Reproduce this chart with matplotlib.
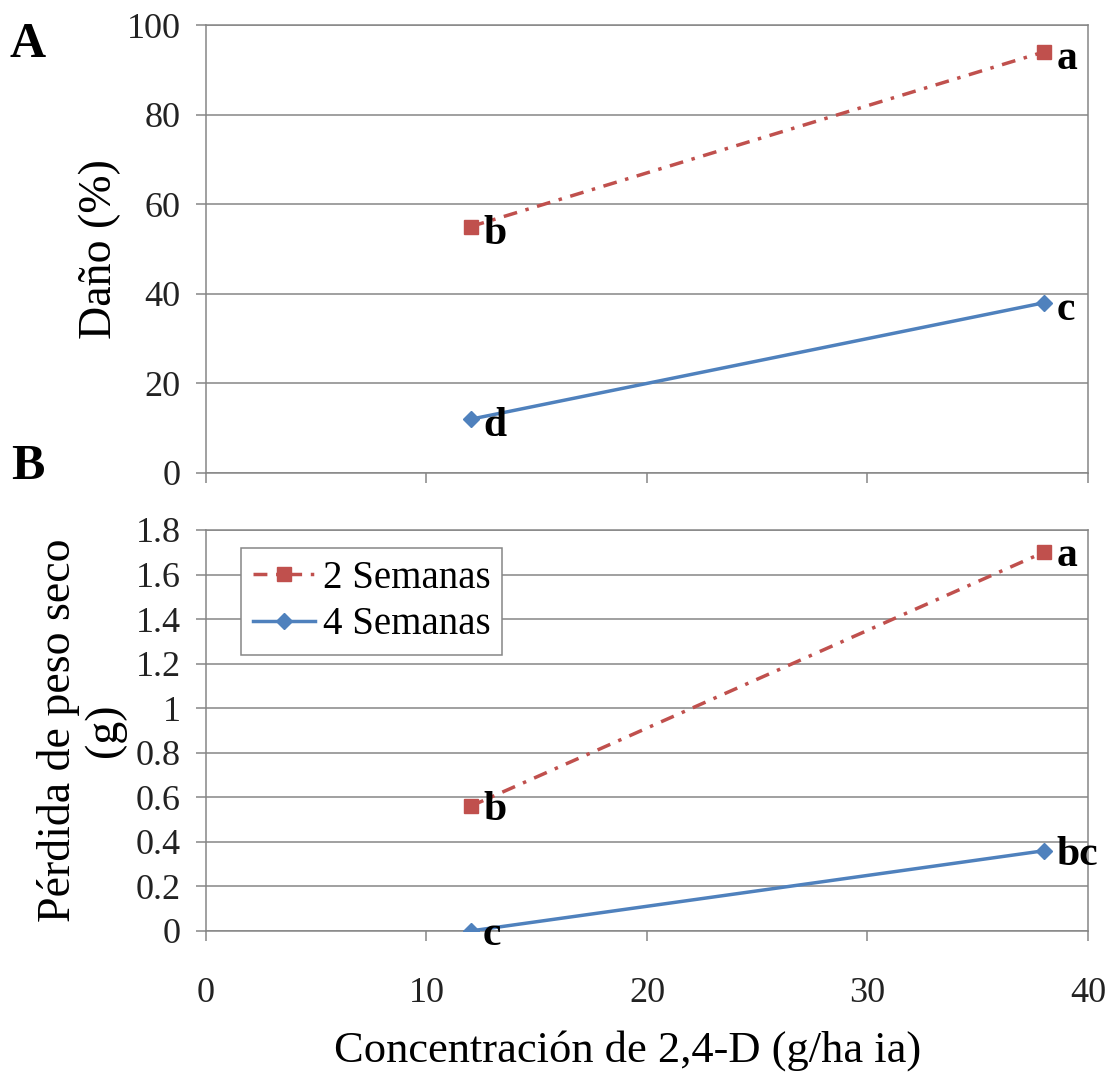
import matplotlib
matplotlib.use("Agg")
import matplotlib.pyplot as plt
import numpy as np

plt.rcParams['font.family'] = ['Liberation Serif', 'DejaVu Serif']

# dosis de 2,4-D (g/ha ia)
dosis = [12, 38]

# A: dano (%)
dano_2sem = [55, 94]
dano_4sem = [12, 38]
letras_dano_2sem = ['b', 'a']
letras_dano_4sem = ['d', 'c']

# B: perdida de peso seco (g)
peso_2sem = [0.56, 1.70]
peso_4sem = [0.0, 0.36]
letras_peso_2sem = ['b', 'a']
letras_peso_4sem = ['c', 'bc']

series = ['2 Semanas', '4 Semanas']
x_ticks = [0, 10, 20, 30, 40]

rojo = '#C0504D'
azul = '#4F81BD'
gris = '#868686'

fig = plt.figure(figsize=(11.11, 10.75), dpi=100)
ax1 = fig.add_axes([0.1854, 0.560, 0.7939, 0.4167])
ax2 = fig.add_axes([0.1854, 0.134, 0.7939, 0.373])


def estilo(ax, ymax, ystep, fmt):
    ax.set_xlim(0, 40)
    ax.set_ylim(0, ymax)
    ax.set_xticks(x_ticks)
    ax.set_yticks(np.arange(0, ymax + ystep / 2, ystep))
    ax.yaxis.set_major_formatter(fmt)
    ax.grid(axis='y', color=gris, lw=1.1)
    ax.set_axisbelow(True)
    for s in ax.spines.values():
        s.set_color(gris)
        s.set_linewidth(1.1)
    ax.tick_params(direction='out', length=7.2, width=1.1, color=gris,
                   labelsize=26, labelcolor='#222222')
    ax.tick_params(axis='x', pad=26)
    ax.tick_params(axis='y', pad=11)


def lineas(ax, y2, y4):
    l2, = ax.plot(dosis, y2, color=rojo, lw=2.5, ls=(0, (4, 2.5, 1, 2.5)),
                  marker='s', ms=10, mfc=rojo, mec=rojo, label=series[0],
                  zorder=3)
    l4, = ax.plot(dosis, y4, color=azul, lw=2.5, ls='-',
                  marker='D', ms=8, mfc=azul, mec=azul, label=series[1],
                  zorder=3)
    return l2, l4


def letras(ax, y, labs, dy=-4):
    for xi, yi, t in zip(dosis, y, labs):
        ax.annotate(t, (xi, yi), xytext=(9, dy), textcoords='offset points',
                    ha='left', va='center', fontsize=30, fontweight='bold',
                    color='black', zorder=4)


# panel A
estilo(ax1, 100, 20, matplotlib.ticker.FormatStrFormatter('%d'))
ax1.tick_params(axis='x', labelbottom=False)
lineas(ax1, dano_2sem, dano_4sem)
letras(ax1, dano_2sem, letras_dano_2sem, dy=-5)
letras(ax1, dano_4sem, letras_dano_4sem, dy=-5)
ax1.set_ylabel('Daño (%)', fontsize=33, va='center')
ax1.yaxis.set_label_coords(-0.12, 0.5)

# panel B
fmt_b = matplotlib.ticker.FuncFormatter(lambda v, p: '%g' % round(v, 1))
estilo(ax2, 1.8, 0.2, fmt_b)
l2, l4 = lineas(ax2, peso_2sem, peso_4sem)
letras(ax2, peso_2sem, letras_peso_2sem, dy=-3)
letras(ax2, peso_4sem, letras_peso_4sem, dy=-3)
ax2.set_ylabel('Pérdida de peso seco\n(g)', fontsize=33, linespacing=1.1,
               va='center')
ax2.yaxis.set_label_coords(-0.141, 0.5)
ax2.set_xlabel('Concentración de 2,4-D (g/ha ia)', fontsize=32, va='center')
ax2.xaxis.set_label_coords(0.478, -0.297)

leg = ax2.legend(handles=[l2, l4], loc='upper left',
                 bbox_to_anchor=(0.04, 0.955), fontsize=28, frameon=True,
                 fancybox=False, framealpha=1, edgecolor=gris,
                 handlelength=1.6, handletextpad=0.2, borderpad=0.3,
                 labelspacing=0.25, borderaxespad=0)
leg.get_frame().set_linewidth(1.1)

fig.text(28 / 1111, 1 - 45 / 1075, 'A', fontsize=36, fontweight='bold',
         ha='center', va='center')
fig.text(28 / 1111, 1 - 467 / 1075, 'B', fontsize=36, fontweight='bold',
         ha='center', va='center')

fig.savefig('out.png', dpi=100, facecolor='white')
